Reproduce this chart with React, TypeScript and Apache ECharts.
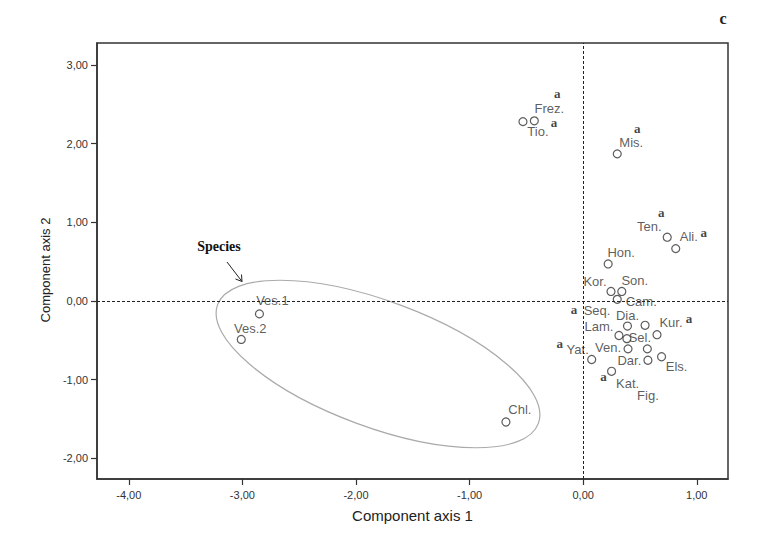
import React, { useEffect, useRef } from "react";
import * as echarts from "echarts";

// ---------- data ----------
const speciesNames = [
  "Frez.", "Tio.", "Mis.", "Ten.", "Ali.", "Hon.", "Kor.", "Son.", "Cam.", "Seq.",
  "Dia.", "Kur.", "Lam.", "Sel.", "Ven.", "Dar.", "Yat.", "Fig.", "Els.", "Kat.",
  "Ves.1", "Ves.2", "Chl.",
];
const axis1Scores = [
  -0.43, -0.53, 0.30, 0.74, 0.815, 0.22, 0.245, 0.34, 0.30, 0.545,
  0.39, 0.65, 0.315, 0.385, 0.395, 0.565, 0.075, 0.57, 0.69, 0.25,
  -2.85, -3.01, -0.68,
];
const axis2Scores = [
  2.29, 2.28, 1.87, 0.81, 0.665, 0.47, 0.12, 0.12, 0.02, -0.31,
  -0.32, -0.43, -0.44, -0.48, -0.61, -0.61, -0.745, -0.755, -0.71, -0.895,
  -0.165, -0.49, -1.54,
];
const markedSpecies = ["Frez.", "Tio.", "Mis.", "Ten.", "Ali.", "Seq.", "Kur.", "Yat.", "Kat."];
const xTicks = [-4, -3, -2, -1, 0, 1];
const yTicks = [-2, -1, 0, 1, 2, 3];

// ---------- label placement (styling) ----------
const labelOffsets: Record<string, [number, number]> = {
  "Frez.": [15, -12], "Tio.": [15, 10], "Mis.": [14, -11], "Ten.": [-18, -11],
  "Ali.": [13, -12], "Hon.": [13, -11], "Kor.": [-16, -10], "Son.": [13, -11],
  "Cam.": [24, 2], "Seq.": [-48, -15], "Dia.": [0, -11], "Kur.": [14, -12],
  "Lam.": [-20, -9], "Sel.": [13, -1], "Ven.": [-20, -1], "Dar.": [-18, 12],
  "Yat.": [-14, -10], "Fig.": [0, 35], "Els.": [15, 10], "Kat.": [16, 12],
  "Ves.1": [13, -13], "Ves.2": [9, -11], "Chl.": [14, -12],
};
const markOffsets: Record<string, [number, number]> = {
  "Frez.": [23, -27], "Tio.": [31, 1], "Mis.": [20, -25], "Ten.": [-6, -25],
  "Ali.": [28, -16], "Seq.": [-71, -16], "Kur.": [32, -16], "Yat.": [-32, -16],
  "Kat.": [-8, 5],
};

const fmt = (v: number) => v.toFixed(2).replace(".", ",");
const SANS = "'Liberation Sans', Arial, sans-serif";
const SERIF = "'Liberation Serif', 'Times New Roman', serif";

export default function App() {
  const ref = useRef<HTMLDivElement>(null);
  useEffect(() => {
    if (!ref.current) return;
    const chart = echarts.init(ref.current, undefined, { renderer: "svg" });

    const pointData = speciesNames.map((n, i) => ({
      name: n,
      value: [axis1Scores[i], axis2Scores[i]],
      label: { offset: labelOffsets[n] || [0, -11] },
    }));
    const markData = speciesNames
      .map((n, i) => ({ n, i }))
      .filter(({ n }) => markedSpecies.includes(n))
      .map(({ n, i }) => ({
        name: n,
        value: [axis1Scores[i], axis2Scores[i]],
        label: { offset: markOffsets[n] || [0, 0] },
      }));

    const axisCommon = {
      type: "value" as const,
      splitLine: { show: false },
      axisLine: { show: true, onZero: false, lineStyle: { color: "#333", width: 1.5 } },
      axisTick: { show: true, length: 6, lineStyle: { color: "#333", width: 1.2 } },
    };

    chart.setOption({
      animation: false,
      backgroundColor: "#fff",
      grid: {
        left: 97, right: 30, top: 43, bottom: 61,
        show: true, borderColor: "#333", borderWidth: 1.5,
      },
      xAxis: {
        ...axisCommon,
        min: -4.28, max: 1.275,
        name: "Component axis 1",
        nameLocation: "middle",
        nameGap: 29,
        nameTextStyle: { fontFamily: SANS, fontSize: 15, color: "#222" },
        axisTick: { ...axisCommon.axisTick, customValues: xTicks },
        axisLabel: {
          customValues: xTicks, formatter: fmt, margin: 10,
          fontFamily: SANS, fontSize: 11, color: "#333",
        },
      },
      yAxis: {
        ...axisCommon,
        min: -2.265, max: 3.28,
        name: "Component axis 2",
        nameLocation: "middle",
        nameGap: 43,
        nameRotate: 90,
        nameTextStyle: { fontFamily: SANS, fontSize: 13, color: "#222", padding: [0, 18, 0, 0] },
        axisTick: { ...axisCommon.axisTick, customValues: yTicks },
        axisLabel: {
          customValues: yTicks, formatter: fmt, margin: 9,
          fontFamily: SANS, fontSize: 11, color: "#333",
        },
      },
      series: [
        {
          type: "scatter",
          name: "Species",
          symbol: "circle",
          symbolSize: 8,
          itemStyle: { color: "#fff", borderColor: "#333", borderWidth: 1.2 },
          label: {
            show: true, position: "inside", formatter: "{b}",
            fontFamily: SANS, fontSize: 13, color: "#333",
          },
          data: pointData,
          z: 3,
          markLine: {
            silent: true,
            symbol: ["none", "none"],
            label: { show: false },
            lineStyle: { color: "#222", width: 1, type: [3, 2] },
            data: [{ xAxis: 0 }, { yAxis: 0 }],
          },
        },
        {
          type: "scatter",
          name: "significance",
          symbolSize: 0,
          itemStyle: { color: "transparent" },
          label: {
            show: true, position: "inside", formatter: "a",
            fontFamily: SERIF, fontWeight: "bold", fontSize: 13, color: "#111",
          },
          data: markData,
          z: 4,
        },
      ],
      graphic: [
        {
          type: "ellipse",
          x: 378, y: 364,
          rotation: -0.354,
          shape: { cx: 0, cy: 0, rx: 171, ry: 63 },
          style: { fill: "none", stroke: "#aaa", lineWidth: 1.2 },
          silent: true,
        },
        {
          type: "text",
          x: 219, y: 246,
          style: {
            text: "Species", fontFamily: SERIF, fontWeight: "bold", fontSize: 14,
            fill: "#111", align: "center", verticalAlign: "middle",
          },
        },
        {
          type: "line",
          shape: { x1: 227, y1: 262, x2: 242, y2: 281.5 },
          style: { stroke: "#222", lineWidth: 1 },
        },
        {
          type: "polyline",
          shape: { points: [[235.5, 279], [242, 281.5], [241.5, 274.5]] },
          style: { stroke: "#222", lineWidth: 1, fill: "none" },
        },
        {
          type: "text",
          x: 723, y: 18,
          style: {
            text: "c", fontFamily: SERIF, fontWeight: "bold", fontSize: 16,
            fill: "#222", align: "center", verticalAlign: "middle",
          },
        },
      ],
    });
    return () => chart.dispose();
  }, []);
  return <div ref={ref} style={{ width: 758, height: 540, position: "absolute", left: 0, top: 0 }} />;
}
